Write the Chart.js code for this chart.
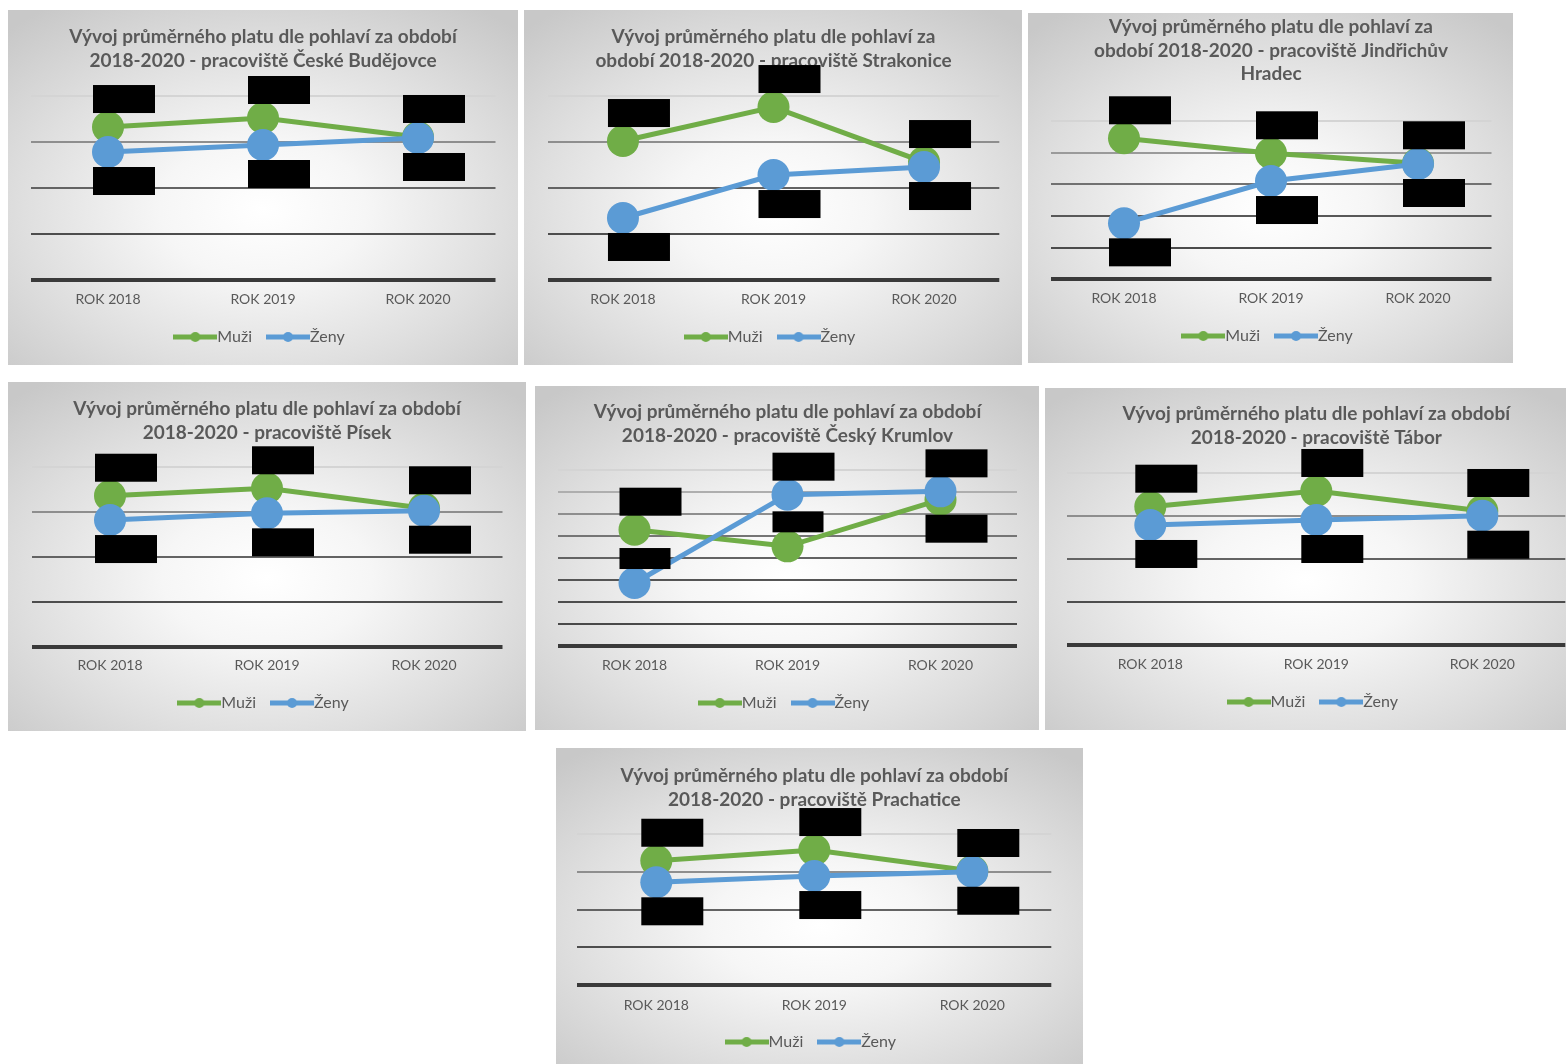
<!DOCTYPE html>
<html lang="cs">
<head>
<meta charset="utf-8">
<title>Vývoj průměrného platu dle pohlaví 2018–2020</title>
<script src="https://cdn.jsdelivr.net/npm/chart.js@4.4.1/dist/chart.umd.min.js"></script>
<style>
  html, body { margin: 0; padding: 0; background: #ffffff; }
  body { width: 1566px; height: 1064px; position: relative; overflow: hidden; }
  .panel {
    position: absolute;
    box-sizing: border-box;
    background: radial-gradient(ellipse 72% 70% at 50% 56%, #ffffff 0%, #f6f6f6 28%, #dfdfdf 65%, #c8c8c8 100%);
  }
  .panel canvas { position: absolute; left: 0; top: 0; }
</style>
</head>
<body>
<script>
// ---- data -------------------------------------------------------------
const categories = ['ROK 2018', 'ROK 2019', 'ROK 2020'];
const seriesNames = ['Muži', 'Ženy'];

// average monthly salary (Kč) per workplace
const muziCeskeBudejovice = [31600, 32580, 30520];
const zenyCeskeBudejovice = [28890, 29650, 30410];

const muziStrakonice = [30080, 33770, 27800];
const zenyStrakonice = [21730, 26390, 27260];

const muziJindrichuvHradec = [37270, 34900, 33320];
const zenyJindrichuvHradec = [23840, 30520, 33210];

const muziPisek = [31830, 32660, 30430];
const zenyPisek = [29120, 29870, 30160];

const muziCeskyKrumlov = [28250, 26360, 31660];
const zenyCeskyKrumlov = [22190, 32230, 32610];

const muziTabor = [31110, 32940, 30610];
const zenyTabor = [28980, 29560, 30060];

const muziPrachatice = [31490, 32910, 30130];
const zenyPrachatice = [28630, 29460, 30030];

// value axis of each chart: [min, max, step]
const axisCeskeBudejovice = [15000, 35000, 5000];
const axisStrakonice = [15000, 35000, 5000];
const axisJindrichuvHradec = [15000, 40000, 5000];
const axisPisek = [15000, 35000, 5000];
const axisCeskyKrumlov = [15000, 35000, 2500];
const axisTabor = [15000, 35000, 5000];
const axisPrachatice = [15000, 35000, 5000];

// chart titles, one entry per line
const titleCeskeBudejovice = ['Vývoj průměrného platu dle pohlaví za období', '2018-2020 - pracoviště České Budějovce'];
const titleStrakonice = ['Vývoj průměrného platu dle pohlaví za', 'období 2018-2020 - pracoviště Strakonice'];
const titleJindrichuvHradec = ['Vývoj průměrného platu dle pohlaví za', 'období 2018-2020 - pracoviště Jindřichův', 'Hradec'];
const titlePisek = ['Vývoj průměrného platu dle pohlaví za období', '2018-2020 - pracoviště Písek'];
const titleCeskyKrumlov = ['Vývoj průměrného platu dle pohlaví za období', '2018-2020 - pracoviště Český Krumlov'];
const titleTabor = ['Vývoj průměrného platu dle pohlaví za období', '2018-2020 - pracoviště Tábor'];
const titlePrachatice = ['Vývoj průměrného platu dle pohlaví za období', '2018-2020 - pracoviště Prachatice'];

// where the (blacked-out) value label of each point sits: a = above, b = below, s = small above
const labelsCeskeBudejovice = [['a', 'a', 'a'], ['b', 'b', 'b']];
const labelsStrakonice = [['a', 'a', 'a'], ['b', 'b', 'b']];
const labelsJindrichuvHradec = [['a', 'a', 'a'], ['b', 'b', 'b']];
const labelsPisek = [['a', 'a', 'a'], ['b', 'b', 'b']];
const labelsCeskyKrumlov = [['a', 's', 'b'], ['s', 'a', 'a']];
const labelsTabor = [['a', 'a', 'a'], ['b', 'b', 'b']];
const labelsPrachatice = [['a', 'a', 'a'], ['b', 'b', 'b']];

// ---- page layout ---------------------------------------------------------
// box: [x, y, w, h] of the chart frame; plot: [left, top, right, bottom] of the plot area;
// titleY / tickY / legendY: vertical centre of first title line, axis labels and legend
const frames = [
  { box: [8, 10, 510, 355],   plot: [30.5, 95.7, 495.5, 280],    titleY: 37,  tickY: 299,  legendY: 337 },
  { box: [524, 10, 498, 355], plot: [547.7, 95.7, 999.3, 280],   titleY: 37,  tickY: 299,  legendY: 337 },
  { box: [1028, 13, 485, 350], plot: [1050.5, 121, 1491.5, 279.3], titleY: 27, tickY: 298, legendY: 336 },
  { box: [8, 382, 518, 349],  plot: [31.5, 467.3, 502.5, 646.7], titleY: 409, tickY: 665,  legendY: 703 },
  { box: [535, 386, 504, 344], plot: [558, 470.3, 1017, 646.3],  titleY: 412, tickY: 665,  legendY: 703 },
  { box: [1045, 388, 521, 342], plot: [1067.3, 473.3, 1565.3, 645], titleY: 414, tickY: 664, legendY: 702 },
  { box: [556, 748, 527, 316], plot: [577.3, 834.3, 1051.3, 985], titleY: 776, tickY: 1005, legendY: 1042 }
];

const charts = [
  { title: titleCeskeBudejovice, muzi: muziCeskeBudejovice, zeny: zenyCeskeBudejovice, axis: axisCeskeBudejovice, labels: labelsCeskeBudejovice },
  { title: titleStrakonice, muzi: muziStrakonice, zeny: zenyStrakonice, axis: axisStrakonice, labels: labelsStrakonice },
  { title: titleJindrichuvHradec, muzi: muziJindrichuvHradec, zeny: zenyJindrichuvHradec, axis: axisJindrichuvHradec, labels: labelsJindrichuvHradec },
  { title: titlePisek, muzi: muziPisek, zeny: zenyPisek, axis: axisPisek, labels: labelsPisek },
  { title: titleCeskyKrumlov, muzi: muziCeskyKrumlov, zeny: zenyCeskyKrumlov, axis: axisCeskyKrumlov, labels: labelsCeskyKrumlov },
  { title: titleTabor, muzi: muziTabor, zeny: zenyTabor, axis: axisTabor, labels: labelsTabor },
  { title: titlePrachatice, muzi: muziPrachatice, zeny: zenyPrachatice, axis: axisPrachatice, labels: labelsPrachatice }
];

// ---- styling -------------------------------------------------------------
const GREEN = '#70ad47';
const BLUE = '#5b9bd5';
const TEXT = '#595959';
const FONT = 'Lato, "Open Sans", sans-serif';
const TITLE_SIZE = 19;
const TITLE_LINE = 23.5;
const TICK_SIZE = 14;
const LEGEND_SIZE = 16;
const LEGEND_PAD = 22;
const MARK_W = 44;

// legend symbol: short thick line with a marker in the middle
function legendMark(color) {
  const c = document.createElement('canvas');
  c.width = MARK_W; c.height = 12;
  const g = c.getContext('2d');
  g.strokeStyle = color; g.lineWidth = 5;
  g.beginPath(); g.moveTo(0, 6); g.lineTo(MARK_W, 6); g.stroke();
  g.fillStyle = color;
  g.beginPath(); g.arc(MARK_W / 2, 6, 5, 0, Math.PI * 2); g.fill();
  return c;
}
const legendMarks = [legendMark(GREEN), legendMark(BLUE)];

// black boxes covering the value labels, placed from each point's pixel position
const labelCovers = {
  id: 'labelCovers',
  afterDatasetsDraw(chart, args, opts) {
    const ctx = chart.ctx;
    ctx.save();
    ctx.fillStyle = '#000000';
    chart.data.datasets.forEach((ds, di) => {
      const meta = chart.getDatasetMeta(di);
      meta.data.forEach((pt, i) => {
        const place = opts.placement[di][i];
        const x = pt.x, y = pt.y;
        if (place === 'a') ctx.fillRect(x - 15, y - 14 - 28, 62, 28);
        else if (place === 'b') ctx.fillRect(x - 15, y + 15, 62, 28);
        else if (place === 's') ctx.fillRect(x - 15, y - 14 - 21, 51, 21);
      });
    });
    ctx.restore();
  }
};

// gridlines fade from dark near the axis to light at the top
function gridColor(axis) {
  return ctx => {
    if (!ctx.tick) return '#808080';
    const [mn, mx] = axis;
    if (ctx.tick.value <= mn) return '#3a3a3a';
    const f = (ctx.tick.value - mn) / (mx - mn);
    const v = Math.round(72 + 140 * Math.pow(f, 2.4));
    return `rgb(${v},${v},${v})`;
  };
}

function buildChart(spec, frame) {
  const [bx, by, bw, bh] = frame.box;
  const [pl, pt, pr, pb] = frame.plot;

  const div = document.createElement('div');
  div.className = 'panel';
  Object.assign(div.style, { left: bx + 'px', top: by + 'px', width: bw + 'px', height: bh + 'px' });
  const cv = document.createElement('canvas');
  cv.width = bw; cv.height = bh;
  cv.style.width = bw + 'px'; cv.style.height = bh + 'px';
  div.appendChild(cv);
  document.body.appendChild(div);

  // title block ends exactly at the top of the plot area
  const padTop = frame.titleY - by - TITLE_LINE / 2;
  const titleGap = (pt - by) - padTop - spec.title.length * TITLE_LINE;
  // legend block: height = size + pad + 10, text centre = top + pad + size/2
  const legendCenter = frame.legendY - by;
  const legendTop = legendCenter - LEGEND_PAD - LEGEND_SIZE / 2;
  const legendBottom = legendTop + LEGEND_SIZE + LEGEND_PAD + 10;
  const padBottom = bh - legendBottom;
  const xAxisHeight = legendTop - (pb - by);
  const tickPad = (frame.tickY - pb) - TICK_SIZE * 1.2 / 2;
  const [yMin, yMax, yStep] = spec.axis;

  const lineDs = (label, data, color, order) => ({
    label, data, order,
    borderColor: color, backgroundColor: color,
    pointBackgroundColor: color, pointBorderColor: color,
    borderWidth: 5, pointRadius: 16, pointBorderWidth: 0, pointHoverRadius: 16,
    tension: 0, clip: false
  });

  return new Chart(cv, {
    type: 'line',
    data: {
      labels: categories,
      datasets: [
        lineDs(seriesNames[0], spec.muzi, GREEN, 1),
        lineDs(seriesNames[1], spec.zeny, BLUE, 0)
      ]
    },
    options: {
      responsive: false,
      animation: false,
      devicePixelRatio: 1,
      events: [],
      layout: {
        autoPadding: false,
        padding: { left: pl - bx, right: bx + bw - pr, top: padTop, bottom: padBottom }
      },
      plugins: {
        title: {
          display: true,
          text: spec.title,
          color: TEXT,
          font: { family: FONT, size: TITLE_SIZE, weight: 'bold', lineHeight: TITLE_LINE + 'px' },
          padding: { top: 0, bottom: titleGap }
        },
        legend: {
          position: 'bottom',
          labels: {
            usePointStyle: true,
            pointStyleWidth: MARK_W - LEGEND_SIZE,
            padding: LEGEND_PAD,
            color: TEXT,
            font: { family: FONT, size: LEGEND_SIZE },
            generateLabels(chart) {
              const items = Chart.defaults.plugins.legend.labels.generateLabels(chart);
              items.sort((a, b) => a.datasetIndex - b.datasetIndex);
              items.forEach(it => { it.pointStyle = legendMarks[it.datasetIndex]; it.lineWidth = 0; });
              return items;
            }
          }
        },
        tooltip: { enabled: false },
        labelCovers: { placement: spec.labels }
      },
      scales: {
        x: {
          offset: true,
          grid: { display: false, drawTicks: false },
          border: { display: false },
          ticks: { color: TEXT, font: { family: FONT, size: TICK_SIZE }, padding: tickPad, maxRotation: 0, autoSkip: false },
          afterFit: s => { s.height = xAxisHeight; }
        },
        y: {
          min: yMin, max: yMax,
          grid: {
            drawTicks: false,
            color: gridColor(spec.axis),
            lineWidth: ctx => (ctx.tick && ctx.tick.value <= yMin) ? 4 : 2
          },
          border: { display: false },
          ticks: { display: false, stepSize: yStep },
          afterFit: s => { s.width = 0; }
        }
      }
    },
    plugins: [labelCovers]
  });
}

charts.forEach((spec, i) => buildChart(spec, frames[i]));
</script>
</body>
</html>
